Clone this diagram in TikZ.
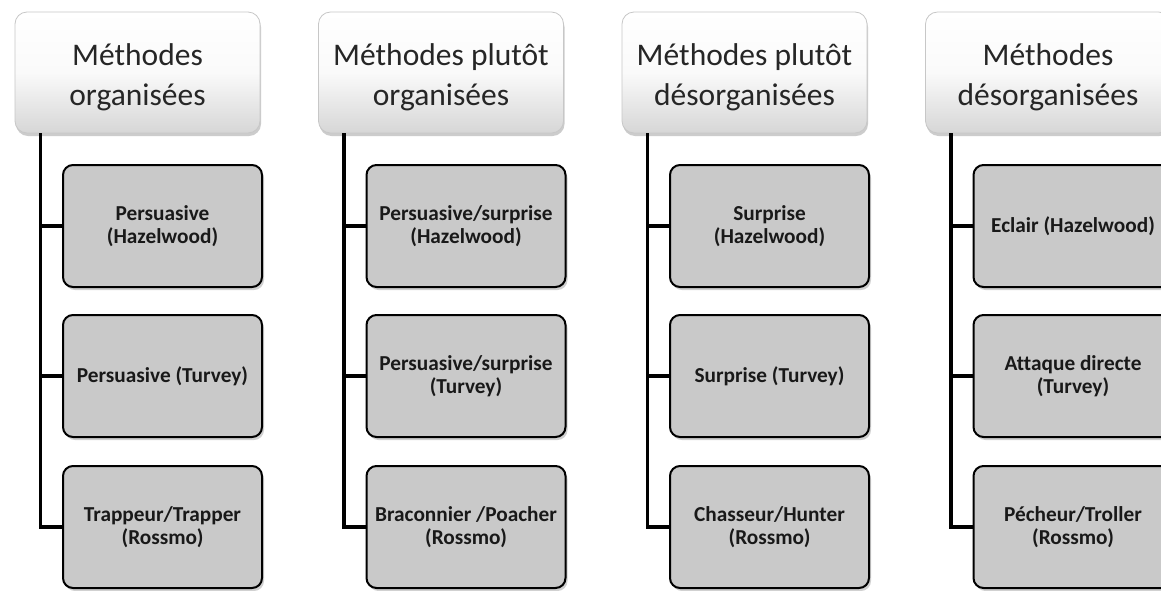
\documentclass[tikz,border=0pt]{standalone}
\usepackage{fontspec}
\setmainfont{Carlito}[Ligatures={NoCommon}]
\usetikzlibrary{shadows,calc}
\newcommand{\hstrut}{\rule{0pt}{32pt}}
\tikzset{
  header/.style={rectangle, rounded corners=12pt, minimum width=245pt, minimum height=121pt,
    inner sep=0pt, align=center, font=\fontsize{31.5}{40}\selectfont, text=black!85,
    draw=black!22, line width=0.8pt,
    top color=white, bottom color=black!16, middle color=black!2,
    drop shadow={opacity=0.4, shadow xshift=1pt, shadow yshift=-3pt}},
  childbox/.style={rectangle, rounded corners=10pt, minimum width=199pt, minimum height=122pt,
    inner sep=0pt, align=center, draw=black, line width=2pt, fill=black!21,
    font=\fontsize{21.3}{23.5}\selectfont\bfseries, text=black!90,
    drop shadow={opacity=0.3, shadow xshift=2pt, shadow yshift=-3pt, fill=black!60}},
  conn/.style={draw=black, line width=3.6pt}
}
\begin{document}
\begin{tikzpicture}[x=1pt,y=-1pt]
\clip (0,0) rectangle (1161,590);
\useasboundingbox (0,0) rectangle (1161,590);
\fill[white] (0,0) rectangle (1161,590);
% column 1
\node[header] (h1) at (137.5,72.5) {\hstrut Méthodes\\organisées};
\node[childbox] (c1a) at (162.5,226) {Persuasive\\(Hazelwood)};
\node[childbox] (c1b) at (162.5,376) {Persuasive (Turvey)};
\node[childbox] (c1c) at (162.5,527) {Trappeur/Trapper\\(Rossmo)};
% column 2
\node[header] (h2) at (441,72.5) {\hstrut Méthodes plutôt\\organisées};
\node[childbox] (c2a) at (466,226) {Persuasive/surprise\\(Hazelwood)};
\node[childbox] (c2b) at (466,376) {Persuasive/surprise\\(Turvey)};
\node[childbox] (c2c) at (466,527) {Braconnier /Poacher\\(Rossmo)};
% column 3
\node[header] (h3) at (744.5,72.5) {\hstrut Méthodes plutôt\\désorganisées};
\node[childbox] (c3a) at (769.5,226) {Surprise\\(Hazelwood)};
\node[childbox] (c3b) at (769.5,376) {Surprise (Turvey)};
\node[childbox] (c3c) at (769.5,527) {Chasseur/Hunter\\(Rossmo)};
% column 4
\node[header] (h4) at (1048,72.5) {\hstrut Méthodes\\désorganisées};
\node[childbox] (c4a) at (1073,226) {Eclair (Hazelwood)};
\node[childbox] (c4b) at (1073,376) {Attaque directe\\(Turvey)};
\node[childbox] (c4c) at (1073,527) {Pécheur/Troller\\(Rossmo)};
% connectors
\foreach \i in {1,2,3,4}{
  \coordinate (t\i) at ([xshift=26pt]h\i.south west);
  \draw[conn] (t\i) |- (c\i c.west);
  \draw[conn] (c\i a.west) -- (c\i a.west -| t\i);
  \draw[conn] (c\i b.west) -- (c\i b.west -| t\i);
}
\end{tikzpicture}
\end{document}
